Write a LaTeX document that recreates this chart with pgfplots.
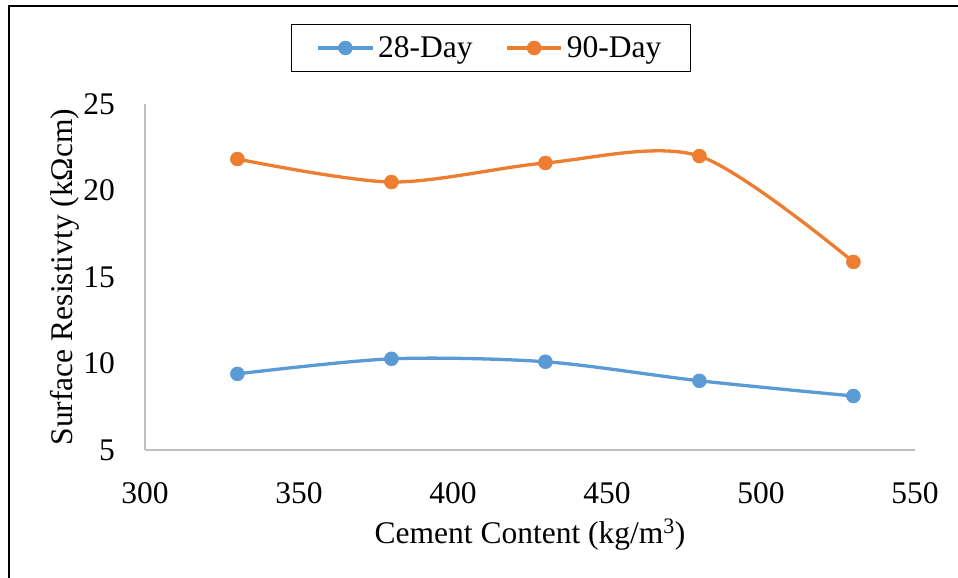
\documentclass[border=0pt]{standalone}
\usepackage{fontspec}
\setmainfont{Liberation Serif}
\usepackage{pgfplots}
\pgfplotsset{compat=1.18}
\definecolor{cblue}{HTML}{5B9BD5}
\definecolor{corange}{HTML}{ED7D31}
\definecolor{axgray}{HTML}{BFBFBF}
\begin{document}
\begin{tikzpicture}[font=\fontsize{31.5}{38}\selectfont]
\path[use as bounding box] (0,0) rectangle (958pt,578pt);
\draw[line width=2pt] (9pt,-5pt) -- (9pt,572.3pt) -- (965pt,572.3pt);
\begin{axis}[
 at={(145pt,128pt)}, anchor=south west,
 scale only axis, width=770pt, height=346pt,
 xmin=300, xmax=550, ymin=5, ymax=25,
 xtick={300,350,...,550}, ytick={5,10,...,25},
 axis x line*=bottom, axis y line*=left,
 axis line style={draw=axgray, line width=1.5pt},
 major tick length=0pt,
 /pgf/number format/assume math mode=true,
 xticklabel style={anchor=north, inner sep=0pt},
 yticklabel style={anchor=east, inner sep=0pt},
 xticklabel shift=32pt, yticklabel shift=30pt,
 xlabel={Cement Content (kg/m\textsuperscript{3})},
 ylabel={Surface Resistivty (kΩcm)},
 every axis x label/.style={at={(axis description cs:0.5,-0.2688)}, anchor=base},
 every axis y label/.style={at={(axis description cs:-0.0935,0.5)}, anchor=base, rotate=90},
 legend columns=2,
 legend style={at={(axis description cs:0.4494,1.1618)}, anchor=center, draw=black, line width=1.3pt, inner xsep=25pt, inner ysep=8pt, nodes={inner sep=4pt}, /tikz/every even column/.append style={column sep=29pt}},
 legend image code/.code={\draw[mark repeat=2, mark phase=2, #1] plot coordinates {(0pt,0pt)(27pt,0pt)(54pt,0pt)};},
]
\addplot[cblue, line width=3.3pt, smooth, mark=*, mark size=7pt, mark options={solid, line width=0.5pt}]
 coordinates {(330,9.4)(380,10.27)(430,10.1)(480,9.0)(530,8.12)};
\addlegendentry{28-Day}
\addplot[corange, line width=3.3pt, smooth, mark=*, mark size=7pt, mark options={solid, line width=0.5pt}]
 coordinates {(330,21.82)(380,20.49)(430,21.59)(480,21.99)(530,15.87)};
\addlegendentry{90-Day}
\end{axis}
\end{tikzpicture}
\end{document}
